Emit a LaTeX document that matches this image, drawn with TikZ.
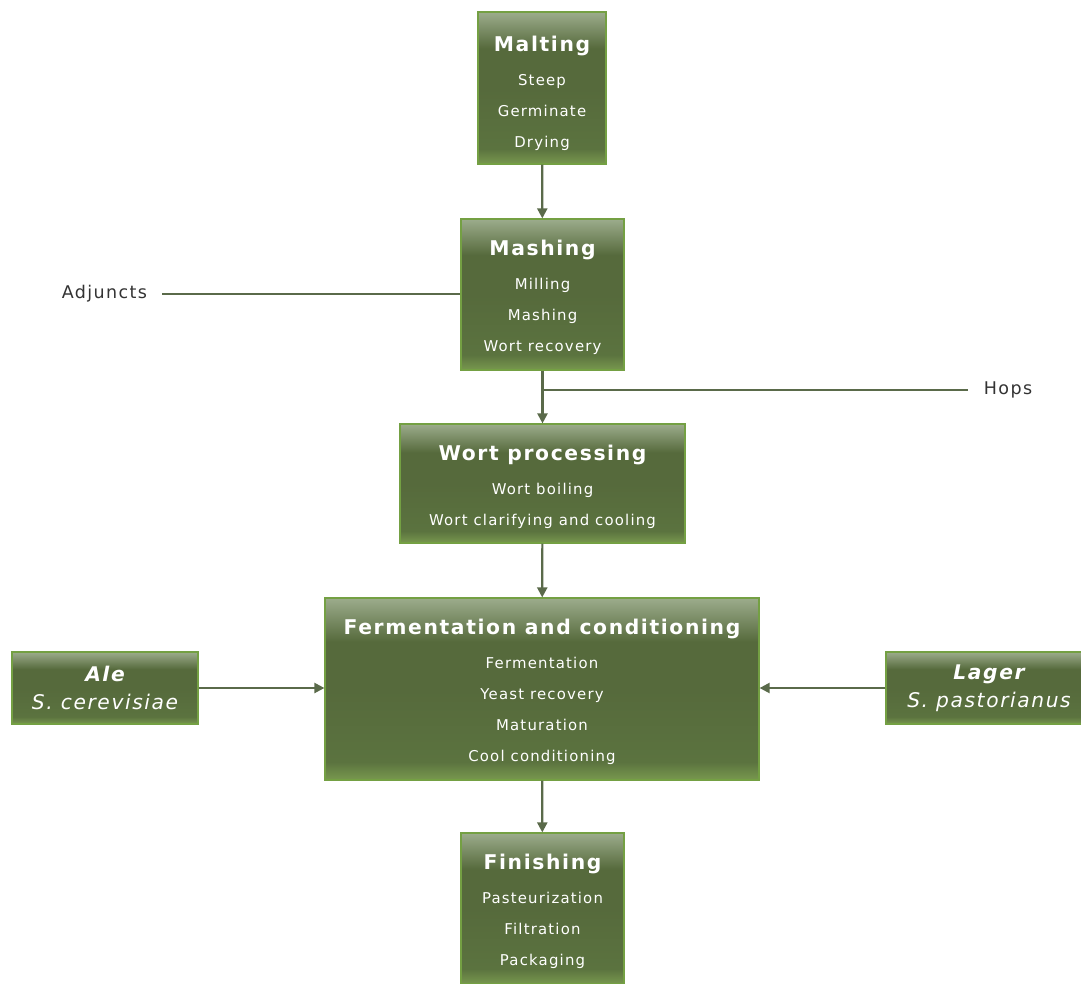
\documentclass[tikz,border=0pt]{standalone}
\usepackage{fontspec}
\setmainfont{DejaVu Sans}[LetterSpace=8]
\usetikzlibrary{arrows.meta,shadows}

\definecolor{boxtop}{HTML}{9CAC8C}
\definecolor{boxmid}{HTML}{566A3C}
\definecolor{boxlow}{HTML}{5B733F}
\definecolor{boxbot}{HTML}{78984E}
\definecolor{boxedge}{HTML}{74A043}
\definecolor{flowline}{HTML}{5A6A4A}
\definecolor{sidetext}{HTML}{333333}

\pgfdeclareverticalshading{boxshade}{100bp}{color(0bp)=(boxbot); color(25bp)=(boxbot);
  color(30bp)=(boxlow); color(50bp)=(boxmid); color(63bp)=(boxmid);
  color(75bp)=(boxtop); color(100bp)=(boxtop)}

\newcommand{\titlefont}{\fontsize{20.3}{24}\selectfont\bfseries}

\begin{document}
\begin{tikzpicture}[x=1pt, y=-1pt,
    stage/.style={draw=boxedge, line width=1.2pt, shading=boxshade, inner sep=0pt,
      drop shadow={shadow xshift=1pt, shadow yshift=-1pt, opacity=0.18, fill=black!50}},
    stagetext/.style={text=white, align=center, inner sep=0pt, font=\fontsize{14.9}{31}\selectfont},
    yeast/.style={stage, text=white, align=center, font=\fontsize{20.2}{28}\selectfont\itshape},
    flow/.style={draw=flowline, line width=2.2pt, -{Triangle[length=10pt, width=10pt]}},
    feed/.style={draw=flowline, line width=2.2pt},
    side/.style={text=sidetext, inner sep=0pt, font=\fontsize{17.5}{17.5}\selectfont}]
    \useasboundingbox (0,0) rectangle (1081,983);

    % Process stages
    \node[stage, minimum width=128pt, minimum height=152pt] (malt) at (542,88) {};
    \node[stage, minimum width=163pt, minimum height=151pt] (mash) at (542.5,294.5) {};
    \node[stage, minimum width=285pt, minimum height=119pt] (wort) at (542.5,483.5) {};
    \node[stage, minimum width=434pt, minimum height=182pt] (ferm) at (542,689) {};
    \node[stage, minimum width=163pt, minimum height=151pt] (fin) at (542.5,908.5) {};

    % Stage texts
    \node[stagetext, anchor=north] (malttext) at ([yshift=-24pt]malt.north)
        {{\titlefont Malting}\\[3pt] Steep\\ Germinate\\ Drying};
    \node[stagetext, anchor=north] (mashtext) at ([yshift=-21.5pt]mash.north)
        {{\titlefont Mashing}\\[3pt] Milling\\ Mashing\\ Wort recovery};
    \node[stagetext, anchor=north] (worttext) at ([yshift=-21.5pt]wort.north)
        {{\titlefont Wort processing}\\[3pt] Wort boiling\\ Wort clarifying and cooling};
    \node[stagetext, anchor=north] (fermtext) at ([yshift=-21.5pt]ferm.north)
        {{\titlefont Fermentation and conditioning}\\[3pt] Fermentation\\ Yeast recovery\\ Maturation\\ Cool conditioning};
    \node[stagetext, anchor=north] (fintext) at ([yshift=-21.5pt]fin.north)
        {{\titlefont Finishing}\\[3pt] Pasteurization\\ Filtration\\ Packaging};

    % Yeast strains
    \node[yeast, minimum width=186pt, minimum height=72pt] (ale) at (105,688) {\textbf{Ale}\\ S. cerevisiae};
    \node[yeast, minimum width=206pt, minimum height=72pt] (lager) at (989,688) {\textbf{Lager}\\ S. pastorianus};

    % Additions
    \node[side] (adj) at (104.5,294) {Adjuncts};
    \node[side] (hops) at (1008,390) {Hops};
    \coordinate (hopsjoin) at (mash.south |- hops.west);

    % Main flow
    \draw[flow] (malt) -- (mash);
    \draw[flow] (mash) -- (wort);
    \draw[flow] (wort) -- (ferm);
    \draw[flow] (ferm) -- (fin);
    \draw[flow] (ale.east) -- (ale.east -| ferm.west);
    \draw[flow] (lager.west) -- (lager.west -| ferm.east);

    % Feed lines
    \draw[feed] ([xshift=15pt]adj.east) -- (adj.east -| mash.west);
    \draw[feed] ([xshift=-16pt]hops.west) -- (hopsjoin);
\end{tikzpicture}
\end{document}
